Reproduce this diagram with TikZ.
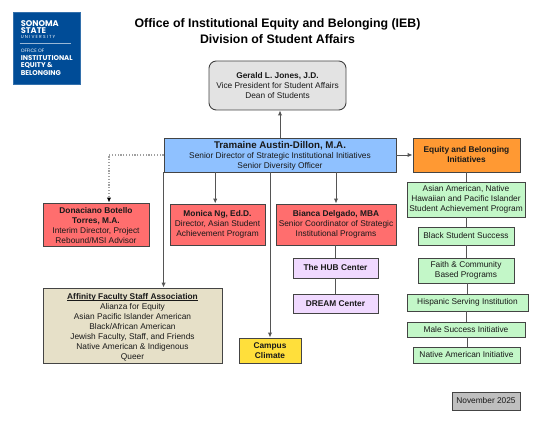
\documentclass[tikz,border=0pt]{standalone}
\usepackage{fontspec}
\setmainfont{Liberation Sans}
\newfontfamily\logofont{Poppins}
\usetikzlibrary{arrows.meta}
\definecolor{edgec}{HTML}{444444}
\definecolor{linec}{HTML}{555555}
\definecolor{dotc}{HTML}{A0A0A0}
\definecolor{logoblue}{HTML}{004C97}
\definecolor{tramblue}{HTML}{8FC1FF}
\definecolor{orangec}{HTML}{FF9933}
\definecolor{greenc}{HTML}{C3F7C8}
\definecolor{redc}{HTML}{FF6E6E}
\definecolor{purplec}{HTML}{F0D9FF}
\definecolor{beigec}{HTML}{E6E0C8}
\definecolor{yellowc}{HTML}{FFDF3B}
\definecolor{greyc}{HTML}{E3E3E3}
\definecolor{dategrey}{HTML}{BFBFBF}
\newcommand{\bodyf}{\fontsize{6.25}{7.5}\selectfont}
\newcommand{\ulbold}[1]{\setbox0\hbox{\bfseries #1}\rlap{\rule[-0.9pt]{\wd0}{0.4pt}}\box0}
\tikzset{
  x=0.75pt,y=-0.75pt,
  orgbox/.style={draw=edgec,line width=0.7pt,inner sep=0pt,align=center,font=\bodyf,text=black!90},
  wh/.style 2 args={minimum width=#1*0.75pt,minimum height=#2*0.75pt},
  conn/.style={draw=linec,line width=0.7pt},
  arr/.style={conn,-{Latex[length=3.6pt,width=3.2pt]}},
  logotxt/.style={anchor=west,inner sep=0pt,text=white,font=\logofont},
  ttl/.style={inner sep=0pt,align=center,font=\bfseries\fontsize{9.25}{11.4}\selectfont}
}
\begin{document}
\begin{tikzpicture}
\useasboundingbox (0,0) rectangle (540,423);
% logo
\node[fill=logoblue,draw=logoblue!80!white,line width=0.4pt,wh={67}{72},inner sep=0pt] (logo) at (46.5,48.5) {};
\node[logotxt,font=\logofont\bfseries\fontsize{6.2}{6}\selectfont] (l1) at (20.5,23.5) {SONOMA};
\node[logotxt,font=\logofont\bfseries\fontsize{6.2}{6}\selectfont] (l2) at (20.5,31) {STATE};
\node[logotxt,font=\logofont\fontsize{3.3}{3}\selectfont] (l3) at (20.5,37) {U\kern0.9pt N\kern0.9pt I\kern0.9pt V\kern0.9pt E\kern0.9pt R\kern0.9pt S\kern0.9pt I\kern0.9pt T\kern0.9pt Y};
\draw[white!60!logoblue,line width=0.6pt] (logo.west |- l3.south) ++(7,4.5) -- ++(51,0);
\node[logotxt,font=\logofont\fontsize{3.6}{3}\selectfont] (l4) at (20.5,51) {OFFICE OF};
\node[logotxt,font=\logofont\bfseries\fontsize{5.2}{5}\selectfont] (l5) at (20.5,58) {INSTITUTIONAL};
\node[logotxt,font=\logofont\bfseries\fontsize{5.2}{5}\selectfont] (l6) at (20.5,65.5) {EQUITY \&};
\node[logotxt,font=\logofont\bfseries\fontsize{5.2}{5}\selectfont] (l7) at (20.5,73) {BELONGING};
% title
\node[ttl] (title) at (277.5,31) {Office of Institutional Equity and Belonging (IEB)\\Division of Student Affairs};
% nodes
\node[orgbox,fill=greyc,rounded corners=5.5pt,wh={137}{49}] (jones) at (277.5,85.5) {{\bfseries Gerald L. Jones, J.D.}\\Vice President for Student Affairs\\Dean of Students};
\node[orgbox,fill=tramblue,wh={232}{34}] (tram) at (280,155) {\rule{0pt}{7pt}{\bfseries\fontsize{7.3}{7.5}\selectfont Tramaine Austin-Dillon, M.A.}\\Senior Director of Strategic Institutional Initiatives\\Senior Diversity Officer};
\node[orgbox,fill=orangec,wh={107}{34}] (equity) at (466.5,155) {\bfseries Equity and Belonging\\\bfseries Initiatives};
\node[orgbox,fill=greenc,wh={118}{35}] (g1) at (466,199.5) {Asian American, Native\\Hawaiian and Pacific Islander\\Student Achievement Program};
\node[orgbox,fill=greenc,wh={96}{18}] (g2) at (466,236) {Black Student Success};
\node[orgbox,fill=greenc,wh={96}{25}] (g3) at (466,270.5) {Faith \& Community\\Based Programs};
\node[orgbox,fill=greenc,wh={121}{17}] (g4) at (467.5,302.5) {Hispanic Serving Institution};
\node[orgbox,fill=greenc,wh={118}{15}] (g5) at (466,329.5) {Male Success Initiative};
\node[orgbox,fill=greenc,wh={107}{16}] (g6) at (466.5,355) {Native American Initiative};
\node[orgbox,fill=dategrey,wh={68}{18}] (date) at (486,401) {November 2025};
\node[orgbox,fill=redc,wh={106}{43}] (don) at (96,224.5) {\rule{0pt}{5.6pt}{\bfseries Donaciano Botello}\\{\bfseries Torres, M.A.}\\Interim Director, Project\\Rebound/MSI Advisor};
\node[orgbox,fill=redc,wh={95}{41}] (monica) at (217.5,224.5) {{\bfseries Monica Ng, Ed.D.}\\Director, Asian Student\\Achievement Program};
\node[orgbox,fill=redc,wh={120}{41}] (bianca) at (336,224.5) {{\bfseries Bianca Delgado, MBA}\\Senior Coordinator of Strategic\\Institutional Programs};
\node[orgbox,fill=purplec,wh={85}{20},font=\bodyf\bfseries] (hub) at (335.5,268) {The HUB Center};
\node[orgbox,fill=purplec,wh={85}{19},font=\bodyf\bfseries] (dream) at (335.5,303.5) {DREAM Center};
\node[orgbox,fill=beigec,wh={179}{75}] (aff) at (132.5,325.5) {\rule{0pt}{6.6pt}\ulbold{Affinity Faculty Staff Association}\\Alianza for Equity\\Asian Pacific Islander American\\Black/African American\\Jewish Faculty, Staff, and Friends\\Native American \& Indigenous\\Queer};
\node[orgbox,fill=yellowc,wh={62}{25},font=\bodyf\bfseries] (campus) at (270,350.5) {Campus\\Climate};
% connectors
\draw[arr] (tram.north) -- (tram.north |- jones.south);
\draw[arr] (tram.east) -- (equity.west);
\draw[draw=dotc,dash pattern=on 0.8pt off 1.3pt,line width=0.8pt,-{Latex[length=3.6pt,width=3.2pt,black]}] (tram.west) -| ([xshift=9.75pt]don.north);
\draw[arr] (tram.south west) -- (tram.south west |- aff.north);
\draw[arr] ([xshift=-1.7pt]monica.north |- tram.south) -- ([xshift=-1.7pt]monica.north);
\draw[arr] (campus.north |- tram.south) -- (campus.north);
\draw[arr] (tram.south -| bianca.north) -- (bianca.north);
\draw[conn] (bianca.south -| hub.north) -- (hub.north);
\draw[conn] (hub.south) -- (dream.north);
\draw[conn] (equity.south) -- (equity.south |- g1.north);
\draw[conn] (g1.south) -- (g2.north);
\draw[conn] (g2.south) -- (g3.north);
\draw[conn] (g3.south -| g4.north) -- (g4.north);
\draw[conn] (g4.south -| g5.north) -- (g5.north);
\draw[conn] (g5.south -| g4.south) -- (g4.south |- g6.north);
\end{tikzpicture}
\end{document}
